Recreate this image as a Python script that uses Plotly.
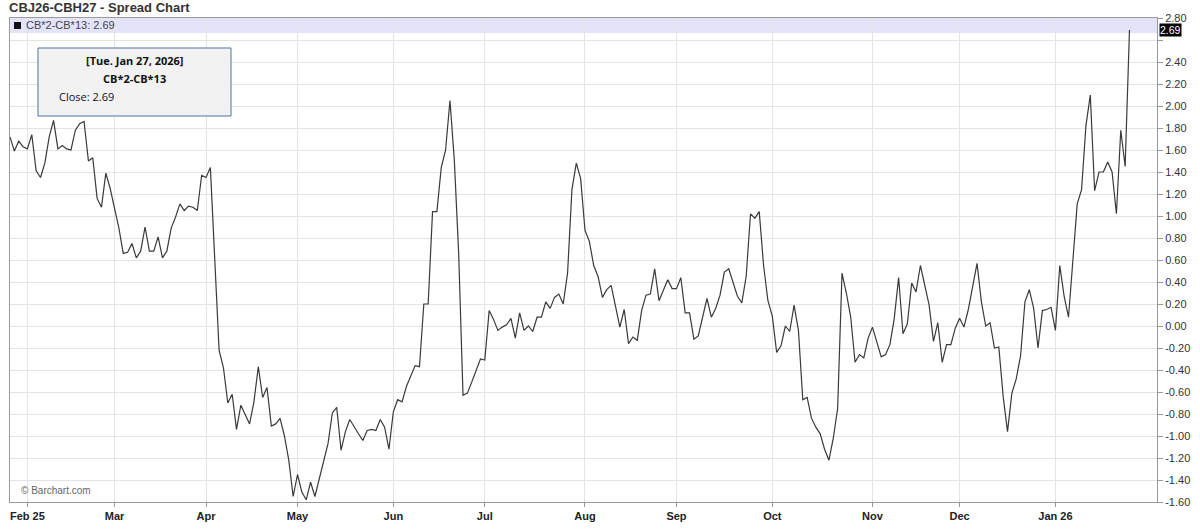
import pandas as pd
import plotly.graph_objects as go

# ---------------- data ----------------
series_name = "CB*2-CB*13"
title_text = "CBJ26-CBH27 - Spread Chart"
start_date = "2025-01-28"
end_date = "2026-01-27"
closed_days = ["2025-04-18", "2025-12-25", "2026-01-01"]

values = [
    1.72, 1.59, 1.68, 1.63, 1.61, 1.74, 1.41, 1.35, 1.48, 1.72,
    1.87, 1.61, 1.64, 1.61, 1.60, 1.78, 1.84, 1.86, 1.50, 1.53,
    1.16, 1.08, 1.39, 1.25, 1.07, 0.89, 0.66, 0.67, 0.75, 0.62,
    0.68, 0.90, 0.68, 0.68, 0.81, 0.62, 0.68, 0.89, 0.99, 1.11,
    1.05, 1.09, 1.08, 1.05, 1.37, 1.35, 1.44, 0.60, -0.22, -0.38,
    -0.70, -0.62, -0.94, -0.72, -0.81, -0.89, -0.69, -0.37, -0.65, -0.56,
    -0.91, -0.89, -0.84, -1.00, -1.22, -1.55, -1.35, -1.51, -1.58, -1.42,
    -1.55, -1.38, -1.22, -1.07, -0.79, -0.74, -1.13, -0.96, -0.85, -0.92,
    -0.98, -1.04, -0.95, -0.94, -0.95, -0.85, -0.92, -1.12, -0.78, -0.67,
    -0.69, -0.55, -0.45, -0.36, -0.37, 0.20, 0.20, 1.04, 1.04, 1.44,
    1.60, 2.05, 1.51, 0.66, -0.63, -0.61, -0.51, -0.40, -0.30, -0.31,
    0.14, 0.06, -0.04, -0.01, 0.01, 0.07, -0.11, 0.12, -0.04, 0.00,
    -0.05, 0.08, 0.08, 0.22, 0.16, 0.26, 0.29, 0.20, 0.48, 1.24,
    1.48, 1.34, 0.87, 0.77, 0.55, 0.45, 0.26, 0.33, 0.37, 0.18,
    -0.01, 0.15, -0.16, -0.10, -0.13, 0.14, 0.28, 0.29, 0.52, 0.23,
    0.32, 0.42, 0.34, 0.34, 0.44, 0.12, 0.12, -0.12, -0.09, 0.08,
    0.25, 0.08, 0.16, 0.28, 0.49, 0.52, 0.39, 0.27, 0.21, 0.45,
    1.02, 0.98, 1.04, 0.55, 0.23, 0.09, -0.24, -0.18, 0.00, -0.05,
    0.19, -0.04, -0.67, -0.65, -0.84, -0.92, -0.98, -1.12, -1.22, -1.02,
    -0.75, 0.48, 0.30, 0.08, -0.33, -0.26, -0.29, -0.11, -0.01, -0.14,
    -0.28, -0.26, -0.17, 0.07, 0.44, -0.07, 0.02, 0.39, 0.31, 0.55,
    0.36, 0.19, -0.14, 0.03, -0.33, -0.17, -0.17, -0.02, 0.07, -0.01,
    0.15, 0.36, 0.57, 0.22, 0.00, 0.03, -0.20, -0.19, -0.64, -0.96,
    -0.61, -0.48, -0.27, 0.22, 0.33, 0.16, -0.20, 0.14, 0.15, 0.17,
    -0.04, 0.55, 0.27, 0.08, 0.62, 1.11, 1.24, 1.82, 2.10, 1.23,
    1.40, 1.40, 1.49, 1.40, 1.02, 1.78, 1.45, 2.69,
]

month_labels = ["Feb 25", "Mar", "Apr", "May", "Jun", "Jul", "Aug",
                "Sep", "Oct", "Nov", "Dec", "Jan 26"]

y_ticks = [-1.6, -1.4, -1.2, -1.0, -0.8, -0.6, -0.4, -0.2, 0.0, 0.2, 0.4,
           0.6, 0.8, 1.0, 1.2, 1.4, 1.6, 1.8, 2.0, 2.2, 2.4, 2.6, 2.8]
y_hidden_label = 2.6

# ---------------- build ----------------
dates = [d for d in pd.bdate_range(start_date, end_date)
         if d.strftime("%Y-%m-%d") not in closed_days]
cats = [d.strftime("%Y-%m-%d") for d in dates]

first_of_month = []
seen = set()
for d in dates:
    key = (d.year, d.month)
    if key not in seen:
        seen.add(key)
        first_of_month.append(d.strftime("%Y-%m-%d"))
tick_cats = first_of_month[1:]  # skip the partial January 2025

y_ticktext = ["" if abs(v - y_hidden_label) < 1e-9 else f"{v + 0.0:.2f}" for v in y_ticks]

# plot geometry in pixels
W, H = 1200, 532
L, R, T, B = 10, 1157, 18, 502


def px(x):
    return (x - L) / (R - L)


def py(y):
    return (B - y) / (B - T)


FONT = "Liberation Sans, Arial, sans-serif"
TIPFONT = "Open Sans, Noto Sans, sans-serif"

fig = go.Figure()
fig.add_trace(go.Scatter(
    x=cats, y=values, mode="lines",
    line=dict(color="#3a3a3a", width=1.2),
    showlegend=False, hoverinfo="skip",
))

fig.update_layout(
    width=W, height=H,
    margin=dict(l=L, r=W - R, t=T, b=H - B),
    paper_bgcolor="white", plot_bgcolor="white",
    font=dict(family=FONT, size=11, color="#333"),
    xaxis=dict(
        type="category",
        range=[0, (R - L) / 4.356],
        tickvals=tick_cats,
        ticktext=[f"<b>{t}</b>" for t in month_labels],
        tickfont=dict(family=FONT, size=11, color="#222"),
        ticks="outside", ticklen=4, tickcolor="#999",
        showgrid=True, gridcolor="#e4e4e4", gridwidth=1,
        showline=True, linecolor="#9a9a9a", linewidth=1, mirror=True,
        zeroline=False, fixedrange=True,
    ),
    yaxis=dict(
        side="right",
        range=[-1.6, 2.8],
        tickvals=y_ticks,
        ticktext=y_ticktext,
        tickfont=dict(family=FONT, size=11, color="#333"),
        ticks="outside", ticklen=5, tickcolor="#999",
        showgrid=True, gridcolor="#e4e4e4", gridwidth=1,
        showline=True, linecolor="#9a9a9a", linewidth=1, mirror=True,
        zeroline=False, fixedrange=True,
    ),
)

# legend band at the top of the plot
fig.add_shape(type="rect", xref="paper", yref="paper",
              x0=0, x1=1, y0=py(33), y1=1,
              fillcolor="#e3e3f9", line=dict(width=0), layer="below")

last_val = values[-1]
last_date = dates[-1]

fig.add_shape(type="rect", xref="paper", yref="paper",
              x0=px(14), x1=px(21), y0=py(29), y1=py(22),
              fillcolor="#111", line=dict(width=0))
fig.add_annotation(xref="paper", yref="paper", x=px(24), y=py(25.5),
                   xanchor="left", yanchor="middle", showarrow=False,
                   text=f"{series_name}: {last_val:.2f}",
                   font=dict(family=FONT, size=11, color="#444"))

# tooltip box
fig.add_shape(type="rect", xref="paper", yref="paper",
              x0=px(38), x1=px(231), y0=py(116), y1=py(48),
              fillcolor="#f2f2f2", line=dict(color="#4f74a8", width=1))
cx = px((38 + 231) / 2)
date_str = last_date.strftime("%a. %b ") + str(last_date.day) + last_date.strftime(", %Y")
fig.add_annotation(xref="paper", yref="paper", x=cx, y=py(61),
                   xanchor="center", yanchor="middle", showarrow=False,
                   text=f"<b>[{date_str}]</b>",
                   font=dict(family=TIPFONT, size=11, color="#111"))
fig.add_annotation(xref="paper", yref="paper", x=cx, y=py(79),
                   xanchor="center", yanchor="middle", showarrow=False,
                   text=f"<b>{series_name}</b>",
                   font=dict(family=TIPFONT, size=11, color="#111"))
fig.add_annotation(xref="paper", yref="paper", x=px(57), y=py(97),
                   xanchor="left", yanchor="middle", showarrow=False,
                   text=f"Close: {last_val:.2f}",
                   font=dict(family=TIPFONT, size=11, color="#111"))

# last value marker on the right axis
fig.add_annotation(xref="paper", yref="y", x=1, y=last_val, xshift=2,
                   xanchor="left", yanchor="middle", showarrow=False,
                   text=f"{last_val:.2f}", bgcolor="black", borderpad=0,
                   font=dict(family=FONT, size=10.5, color="white"))

# title
fig.add_annotation(xref="paper", yref="paper", x=px(7), y=py(8),
                   xanchor="left", yanchor="middle", showarrow=False,
                   text=f"<b>{title_text}</b>",
                   font=dict(family=FONT, size=13, color="#333"))

# watermark
fig.add_annotation(xref="paper", yref="paper", x=px(19), y=py(490),
                   xanchor="left", yanchor="middle", showarrow=False,
                   text="© Barchart.com",
                   font=dict(family=FONT, size=10, color="#666"))

fig.write_html("out.html",
               config={"displayModeBar": False},
               post_script="document.body.style.margin='0px';document.body.style.overflow='hidden';")
